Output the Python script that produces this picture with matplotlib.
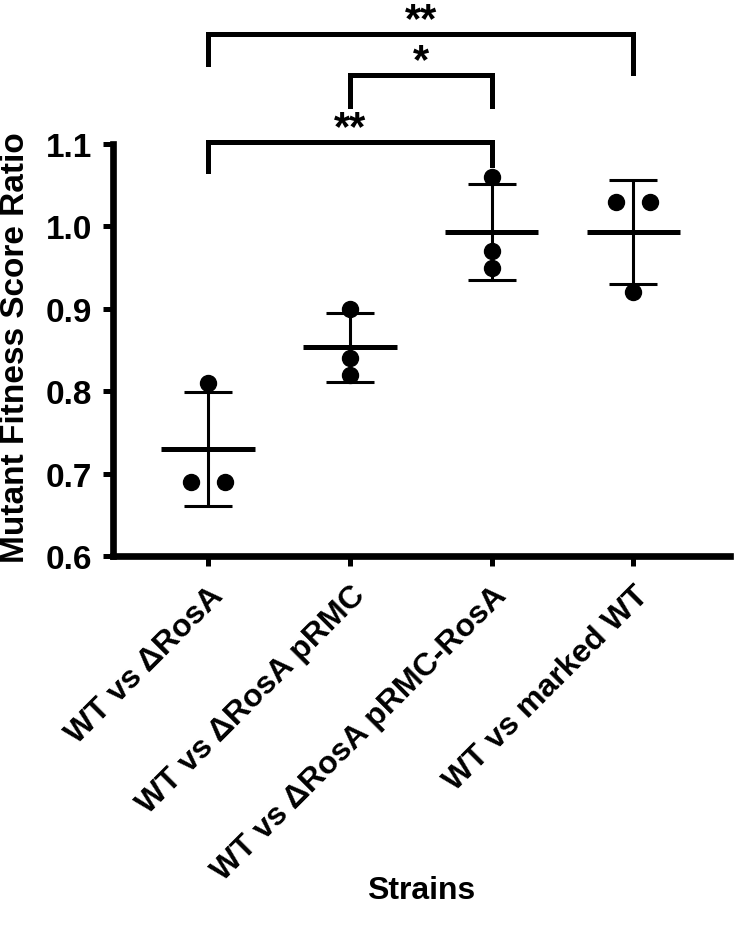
import numpy as np
import matplotlib
matplotlib.use("Agg")
import matplotlib.pyplot as plt

plt.rcParams['font.family'] = ['Liberation Sans', 'DejaVu Sans']
plt.rcParams['font.weight'] = 'bold'

# data
strains = ['WT vs \u0394RosA', 'WT vs \u0394RosA pRMC',
           'WT vs \u0394RosA pRMC-RosA', 'WT vs marked WT']
rep1 = [0.81, 0.90, 1.06, 1.03]
rep2 = [0.69, 0.84, 0.97, 1.03]
rep3 = [0.69, 0.82, 0.95, 0.92]
# horizontal jitter of the dots (side-by-side dots in the original)
jit1 = [0.0, 0.0, 0.0, -0.12]
jit2 = [-0.12, 0.0, 0.0, 0.12]
jit3 = [0.12, 0.0, 0.0, 0.0]

# significance brackets: (left group, right group, bar height, left leg end, right leg end, label)
sig_pairs = [(0, 2, 1.102, 1.067, 1.075, '**'),
             (1, 2, 1.184, 1.146, 1.146, '*'),
             (0, 3, 1.2335, 1.197, 1.186, '**')]

vals = np.array([rep1, rep2, rep3])
means = vals.mean(axis=0)
sds = vals.std(axis=0, ddof=1)
x = np.arange(len(strains))

fig = plt.figure(figsize=(7.38, 9.29), dpi=100)
ax = fig.add_axes([0.153, 0.400, 0.836, 0.444])

for reps, jit in zip([rep1, rep2, rep3], [jit1, jit2, jit3]):
    ax.plot(x + np.array(jit), reps, 'o', color='black', ms=11.5, zorder=3)

# mean line
for xi, m in zip(x, means):
    ax.plot([xi - 0.33, xi + 0.33], [m, m], color='black', lw=3.6, solid_capstyle='butt')
# SD bars
ax.errorbar(x, means, yerr=sds, fmt='none', ecolor='black', elinewidth=2.2,
            capsize=17.5, capthick=2.2)

for a, b, h, la, lb, lab in sig_pairs:
    ax.plot([a, a, b, b], [la, h, h, lb], color='black', lw=3.6, clip_on=False,
            solid_joinstyle='miter')
    ax.annotate(lab, xy=((a + b) / 2, h), xytext=(0, 10), textcoords='offset points',
                ha='center', va='center', fontsize=30, fontweight='bold',
                annotation_clip=False)

ax.set_xlim(-0.67, 3.68)
ax.set_ylim(0.6, 1.1)
ax.set_yticks([0.6, 0.7, 0.8, 0.9, 1.0, 1.1])
ax.set_yticklabels(['0.6', '0.7', '0.8', '0.9', '1.0', '1.1'], fontsize=24, fontweight='bold')
ax.set_xticks(x)
ax.set_xticklabels(strains, rotation=45, ha='right', rotation_mode='anchor',
                   fontsize=23, fontweight='bold')

for s in ['top', 'right']:
    ax.spines[s].set_visible(False)
for s in ['left', 'bottom']:
    ax.spines[s].set_linewidth(4.8)
ax.tick_params(width=3.6, length=7)
ax.tick_params(axis='y', pad=8)
ax.tick_params(axis='x', pad=10)

fig.text(16 / 738, 0.626, 'Mutant Fitness Score Ratio', rotation=90, ha='center',
         va='center', fontsize=24, fontweight='bold')
fig.text(0.571, 0.032, 'Strains', ha='center', va='baseline', fontsize=23, fontweight='bold')

fig.savefig('out.png', dpi=100)
